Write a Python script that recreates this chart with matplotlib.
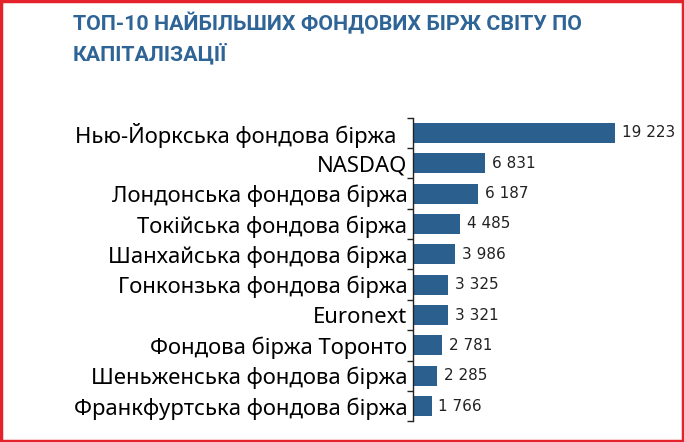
import matplotlib
matplotlib.use("Agg")
import matplotlib.pyplot as plt
from matplotlib.patches import Rectangle
import numpy as np

exchanges = [
    "Нью-Йоркська фондова біржа  ",
    "NASDAQ",
    "Лондонська фондова біржа",
    "Токійська фондова біржа",
    "Шанхайська фондова біржа",
    "Гонконзька фондова біржа",
    "Euronext",
    "Фондова біржа Торонто",
    "Шеньженська фондова біржа",
    "Франкфуртська фондова біржа",
]
capitalization = [19223, 6831, 6187, 4485, 3986, 3325, 3321, 2781, 2285, 1766]
title_lines = ["ТОП-10 НАЙБІЛЬШИХ ФОНДОВИХ БІРЖ СВІТУ ПО", "КАПІТАЛІЗАЦІЇ"]

bar_color = "#2B5F8E"
title_color = "#2F6496"

fig = plt.figure(figsize=(6.84, 4.42), dpi=100)
fig.patch.set_facecolor("white")

ax = fig.add_axes([413/684, 1-421.2/442, 231/684, 303.4/442])
y = np.arange(len(exchanges))
ax.barh(y, capitalization, height=0.66, color=bar_color)
ax.set_ylim(len(exchanges)-0.5, -0.5)
ax.set_xlim(0, 22000)

ax.set_yticks(y)
ax.set_yticklabels(exchanges, fontfamily="Noto Sans", fontsize=15.9, color="black")
ax.tick_params(axis="y", which="major", length=0, pad=4)
ax.set_yticks(np.arange(-0.5, len(exchanges)), minor=True)
ax.tick_params(axis="y", which="minor", length=4, width=1, color="#222222", direction="out")
ax.set_xticks([])
for s in ["top", "right", "bottom"]:
    ax.spines[s].set_visible(False)
ax.spines["left"].set_color("#222222")
ax.spines["left"].set_linewidth(1)

for yi, v in zip(y, capitalization):
    s = f"{v:,}".replace(",", " ")
    ax.annotate(s, (v, yi), xytext=(5, 0), textcoords="offset points",
                va="center", ha="left", fontsize=11, fontfamily="DejaVu Sans",
                color="#222222")

fig.text(73/684, 1-23.5/442, title_lines[0], fontsize=15.4, fontweight="bold",
         fontfamily="Roboto", color=title_color, va="center", ha="left")
fig.text(73/684, 1-53.5/442, title_lines[1], fontsize=15.4, fontweight="bold",
         fontfamily="Roboto", color=title_color, va="center", ha="left")

fig.patches.append(Rectangle((0.002, 0.003), 0.996, 0.994, transform=fig.transFigure,
                             fill=False, edgecolor="#E3222B", linewidth=2.5))

fig.savefig("out.png", dpi=100)
